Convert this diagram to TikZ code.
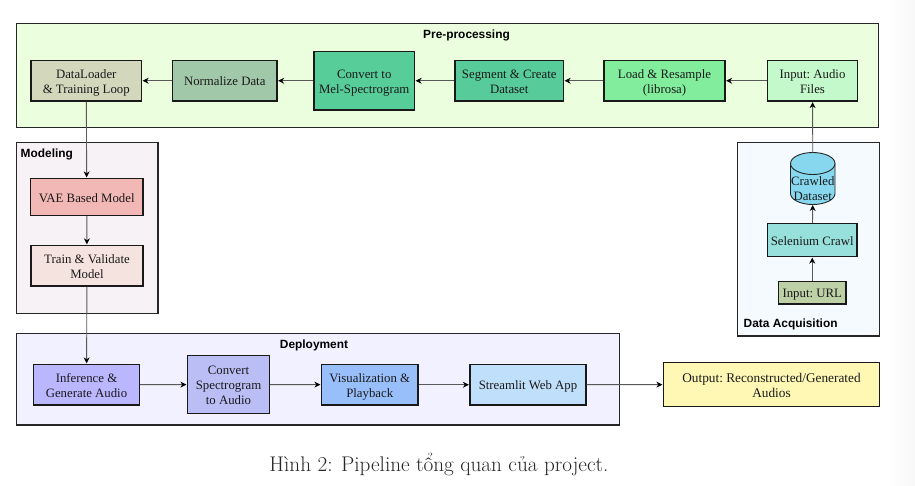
\documentclass[tikz,border=0pt]{standalone}
\usepackage{fontspec}
\setmainfont{Liberation Serif}
\newfontfamily\capfont{Latin Modern Roman}
\newfontfamily\titlefont{Liberation Sans}
\usetikzlibrary{arrows.meta}
\definecolor{cpre}{HTML}{EBFFDE}
\definecolor{cdl}{HTML}{D3D7BC}
\definecolor{cnorm}{HTML}{A2C8AA}
\definecolor{cmel}{HTML}{57CE99}
\definecolor{cseg}{HTML}{57CB99}
\definecolor{cload}{HTML}{82EE9D}
\definecolor{cinp}{HTML}{C4F9CB}
\definecolor{ccyl}{HTML}{87D8EE}
\definecolor{csel}{HTML}{97E0DC}
\definecolor{curl}{HTML}{BDD0A6}
\definecolor{cacq}{HTML}{F5FAFF}
\definecolor{cmod}{HTML}{F7F2F5}
\definecolor{cvae}{HTML}{F2B8B5}
\definecolor{ctrain}{HTML}{F5E3DF}
\definecolor{cdep}{HTML}{F1F1FF}
\definecolor{cinf}{HTML}{BBB7FF}
\definecolor{cconv}{HTML}{BABEF5}
\definecolor{cviz}{HTML}{99BFFA}
\definecolor{cweb}{HTML}{C0DFFA}
\definecolor{cout}{HTML}{FFF8B5}
\def\ruleh{28pt}
\tikzset{
  ruleh/.store in=\ruleh,
  oneline/.style={ruleh=13pt},
  threeline/.style={ruleh=42pt},
  group/.style={draw=black!85,line width=1.3pt,inner sep=0,anchor=center},
  gtitle/.style={font=\titlefont\bfseries\fontsize{11.9}{13}\selectfont,inner sep=0,text=black},
  proc/.style={draw=black!90,line width=1.3pt,inner sep=0,align=center,font=\frenchspacing\fontsize{12.8}{15}\selectfont,text=black!90,
    execute at begin node={\rule{0pt}{\ruleh}},execute at end node={\rule[-3pt]{0pt}{0pt}}},
  link/.style={draw=black!65,line width=0.9pt,-{Stealth[length=6pt,width=6pt,black]},shorten >=0.5pt},
  cylbase/.style={inner sep=0,outer sep=0,minimum width=44.5pt,minimum height=52pt},
  cylline/.style={draw=black!85,line width=0.9pt,fill=ccyl},
}
\begin{document}
\begin{tikzpicture}[x=1pt,y=-1pt]
\useasboundingbox (0,0) rectangle (915,485);
\fill[white] (0,0) rectangle (915,485);
\fill[left color=white,right color=black!3,draw=none] (888,0) rectangle (915,485);
% group panels
\node[group,fill=cpre,minimum width=862pt,minimum height=104pt] (gpre) at (447.5,75.5) {};
\node[group,fill=cacq,minimum width=142pt,minimum height=193.5pt] (gacq) at (808.5,239.25) {};
\node[group,fill=cmod,minimum width=141.5pt,minimum height=171pt] (gmod) at (87.25,228) {};
\node[group,fill=cdep,minimum width=603pt,minimum height=91.5pt] (gdep) at (318,379.25) {};
\node[gtitle] (tpre) at (466.5,35.5) {Pre-processing};
\node[gtitle,anchor=west] (tacq) at (743.5,324) {Data Acquisition};
\node[gtitle,anchor=west] (tmod) at (20.5,154.5) {Modeling};
\node[gtitle] (tdep) at (314,345.5) {Deployment};
% pre-processing
\node[proc,fill=cdl,minimum width=110.5pt,minimum height=40.5pt] (dl) at (86.25,80.75) {DataLoader\\\& Training Loop};
\node[proc,oneline,fill=cnorm,minimum width=104.5pt,minimum height=40.5pt] (norm) at (224.75,80.75) {Normalize Data};
\node[proc,fill=cmel,minimum width=100.5pt,minimum height=58.5pt] (mel) at (364.25,80.75) {Convert to\\Mel-Spectrogram};
\node[proc,fill=cseg,minimum width=108.5pt,minimum height=40.5pt] (seg) at (509.25,80.75) {Segment \& Create\\Dataset};
\node[proc,fill=cload,minimum width=121pt,minimum height=40.5pt] (load) at (664.5,80.75) {Load \& Resample\\(librosa)};
\node[proc,fill=cinp,minimum width=90pt,minimum height=40.5pt] (inp) at (812.5,80.75) {Input: Audio\\Files};
% acquisition
\node[cylbase] (crawl) at (812.75,178.5) {};
\path[cylline] (790.5,163.5) -- (790.5,193.5) .. controls (790.5,199.6) and (800.5,204.5) .. (812.75,204.5) .. controls (825,204.5) and (835,199.6) .. (835,193.5) -- (835,163.5) -- cycle;
\path[cylline] (812.75,163.5) ellipse[x radius=22.25pt,y radius=11pt];
\node[proc,draw=none,inner sep=0] (crawltext) at (812.75,187.5) {Crawled\\Dataset};
\node[proc,oneline,fill=csel,minimum width=89.5pt,minimum height=33pt] (sel) at (812.25,240) {Selenium Crawl};
\node[proc,oneline,fill=curl,minimum width=67.5pt,minimum height=22.5pt] (url) at (812.25,292.75) {Input: URL};
% modeling
\node[proc,oneline,fill=cvae,minimum width=112.5pt,minimum height=37pt] (vae) at (86.75,197) {VAE Based Model};
\node[proc,fill=ctrain,minimum width=112pt,minimum height=40.5pt] (train) at (87,265.75) {Train \& Validate\\Model};
% deployment
\node[proc,fill=cinf,minimum width=106pt,minimum height=40.5pt] (inf) at (86.5,384.75) {Inference \&\\Generate Audio};
\node[proc,threeline,fill=cconv,minimum width=82pt,minimum height=58pt] (conv) at (228.5,384.5) {Convert\\Spectrogram\\to Audio};
\node[proc,fill=cviz,minimum width=96.5pt,minimum height=40.5pt] (viz) at (369.75,384.75) {Visualization \&\\Playback};
\node[proc,oneline,fill=cweb,minimum width=116pt,minimum height=40.5pt] (web) at (528,384.75) {Streamlit Web App};
\node[proc,fill=cout,minimum width=216pt,minimum height=44pt,font=\frenchspacing\fontsize{13.3}{15}\selectfont] (out) at (771.5,384.5) {Output: Reconstructed/Generated\\Audios};
% caption
\node[inner sep=0,font=\capfont\fontsize{21.2}{24}\selectfont,text=black!85] (cap) at (439,465) {Hình 2: Pipeline tổng quan của project.};
% connectors
\draw[link] (inp) -- (load);
\draw[link] (load) -- (seg);
\draw[link] (seg) -- (mel);
\draw[link] (mel) -- (norm);
\draw[link] (norm) -- (dl);
\draw[link] (dl) -- (vae);
\draw[link] (vae) -- (train);
\draw[link] (train) -- (inf);
\draw[link] (inf) -- (conv);
\draw[link] (conv) -- (viz);
\draw[link] (viz) -- (web);
\draw[link] (web) -- (out);
\draw[link] (url) -- (sel);
\draw[link] (sel) -- (crawl.south);
\draw[link] (crawl.north) -- (inp);
\end{tikzpicture}
\end{document}
